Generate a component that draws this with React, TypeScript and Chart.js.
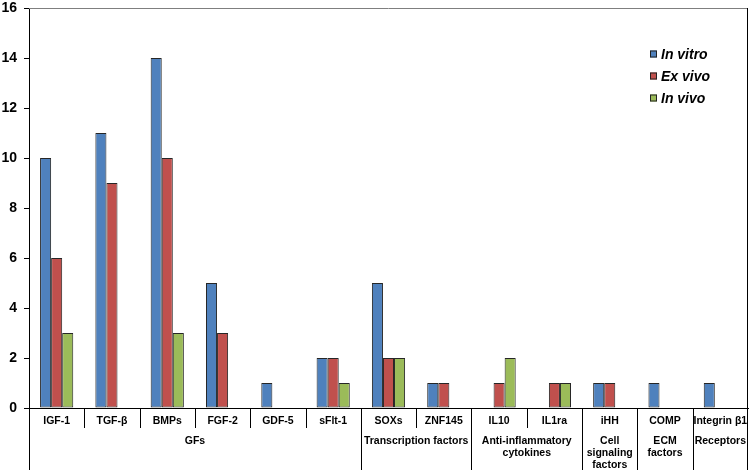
import React, { useEffect, useRef } from "react";
import { Chart, registerables } from "chart.js";

Chart.register(...registerables);

const categories = ["IGF-1", "TGF-β", "BMPs", "FGF-2", "GDF-5", "sFlt-1", "SOXs", "ZNF145", "IL10", "IL1ra", "iHH", "COMP", "Integrin β1"];
const inVitro = [10, 11, 14, 5, 1, 2, 5, 1, null, null, 1, 1, 1];
const exVivo = [6, 9, 10, 3, null, 2, 2, 1, 1, 1, 1, null, null];
const inVivo = [3, null, 3, null, null, 1, 2, null, 2, 1, null, null, null];
const seriesNames = ["In vitro", "Ex vivo", "In vivo"];
const seriesColors = ["#4F81BD", "#C0504D", "#9BBB59"];
const groupLabels = [["GFs"], ["Transcription factors"], ["Anti-inflammatory", "cytokines"], ["Cell", "signaling", "factors"], ["ECM", "factors"], ["Receptors"]];
const groupSpans = [6, 2, 2, 1, 1, 1];
const yMax = 16;
const yStep = 2;

const FONT = "'Liberation Sans', Arial, sans-serif";

const decorPlugin = {
  id: "decor",
  afterDraw(chart: any) {
    const { ctx, chartArea } = chart;
    const { left, right, top, bottom } = chartArea;
    const n = categories.length;
    const w = (right - left) / n;
    const H = chart.height;
    const lineBottom = H - 3;
    ctx.save();
    // top frame line
    ctx.strokeStyle = "#7f7f7f";
    ctx.lineWidth = 1;
    ctx.beginPath();
    ctx.moveTo(left, Math.floor(top) + 0.5);
    ctx.lineTo(right, Math.floor(top) + 0.5);
    ctx.stroke();
    ctx.strokeStyle = "#000";
    // right line
    ctx.beginPath();
    ctx.moveTo(Math.floor(right) - 0.5, top);
    ctx.lineTo(Math.floor(right) - 0.5, lineBottom);
    ctx.stroke();
    // left extension
    ctx.beginPath();
    ctx.moveTo(Math.round(left) + 0.5, bottom);
    ctx.lineTo(Math.round(left) + 0.5, lineBottom);
    ctx.stroke();
    // separators
    const groupBounds = new Set<number>();
    let acc = 0;
    groupSpans.forEach((s) => { acc += s; groupBounds.add(acc); });
    for (let i = 1; i < n; i++) {
      const x = Math.round(left + i * w) + 0.5;
      ctx.beginPath();
      ctx.moveTo(x, bottom);
      ctx.lineTo(x, groupBounds.has(i) ? lineBottom : bottom + 20);
      ctx.stroke();
    }
    // category labels
    ctx.fillStyle = "#000";
    ctx.textAlign = "center";
    ctx.textBaseline = "middle";
    ctx.font = `bold 10.5px ${FONT}`;
    const xs = chart.scales.x;
    categories.forEach((c, i) => {
      ctx.fillText(c, xs.getPixelForValue(i), bottom + 13.5);
    });
    // group labels
    let start = 0;
    groupSpans.forEach((s, g) => {
      const cx = left + (start + s / 2) * w;
      groupLabels[g].forEach((line, j) => {
        ctx.fillText(line, cx, bottom + 33.5 + j * 12);
      });
      start += s;
    });
    // legend
    ctx.font = `italic bold 14px ${FONT}`;
    ctx.textAlign = "left";
    const lx = right - 98;
    seriesNames.forEach((name, i) => {
      const cy = 54 + i * 22;
      ctx.fillStyle = seriesColors[i];
      ctx.fillRect(lx, cy - 3.5, 7, 7);
      ctx.strokeStyle = "#222";
      ctx.strokeRect(lx + 0.5, cy - 3, 6, 6);
      ctx.fillStyle = "#000";
      ctx.fillText(name, lx + 11, cy + 1);
    });
    ctx.restore();
  },
};

export default function App() {
  const ref = useRef<HTMLCanvasElement | null>(null);
  useEffect(() => {
    document.body.style.margin = "0";
    const datas = [inVitro, exVivo, inVivo];
    const chart = new Chart(ref.current!, {
      type: "bar",
      data: {
        labels: categories,
        datasets: seriesNames.map((name, i) => ({
          label: name,
          data: datas[i] as any,
          backgroundColor: seriesColors[i],
          borderColor: "#262626",
          borderWidth: 1,
          borderSkipped: false,
          inflateAmount: 0,
          categoryPercentage: 0.6,
          barPercentage: 1,
        })),
      },
      options: {
        animation: false,
        responsive: true,
        maintainAspectRatio: false,
        layout: { padding: { top: 8, right: 2, left: 0, bottom: 0 } },
        plugins: { legend: { display: false }, tooltip: { enabled: false } },
        scales: {
          x: {
            grid: { display: false },
            border: { display: true, color: "#000", width: 1 },
            ticks: { display: false },
            afterFit: (s: any) => { s.height = 65; },
          },
          y: {
            min: 0,
            max: yMax,
            ticks: { stepSize: yStep, color: "#000", font: { family: FONT, size: 14, weight: "bold" }, padding: 7 },
            grid: { display: true, drawOnChartArea: false, drawTicks: true, tickLength: 5, color: "#000" },
            border: { display: true, color: "#000", width: 1 },
            afterFit: (s: any) => { s.width = 29; s.paddingTop = 0; s.paddingBottom = 0; },
          },
        },
      },
      plugins: [decorPlugin],
    });
    return () => chart.destroy();
  }, []);
  return (
    <div style={{ width: 750, height: 473, position: "relative" }}>
      <canvas ref={ref} />
    </div>
  );
}
